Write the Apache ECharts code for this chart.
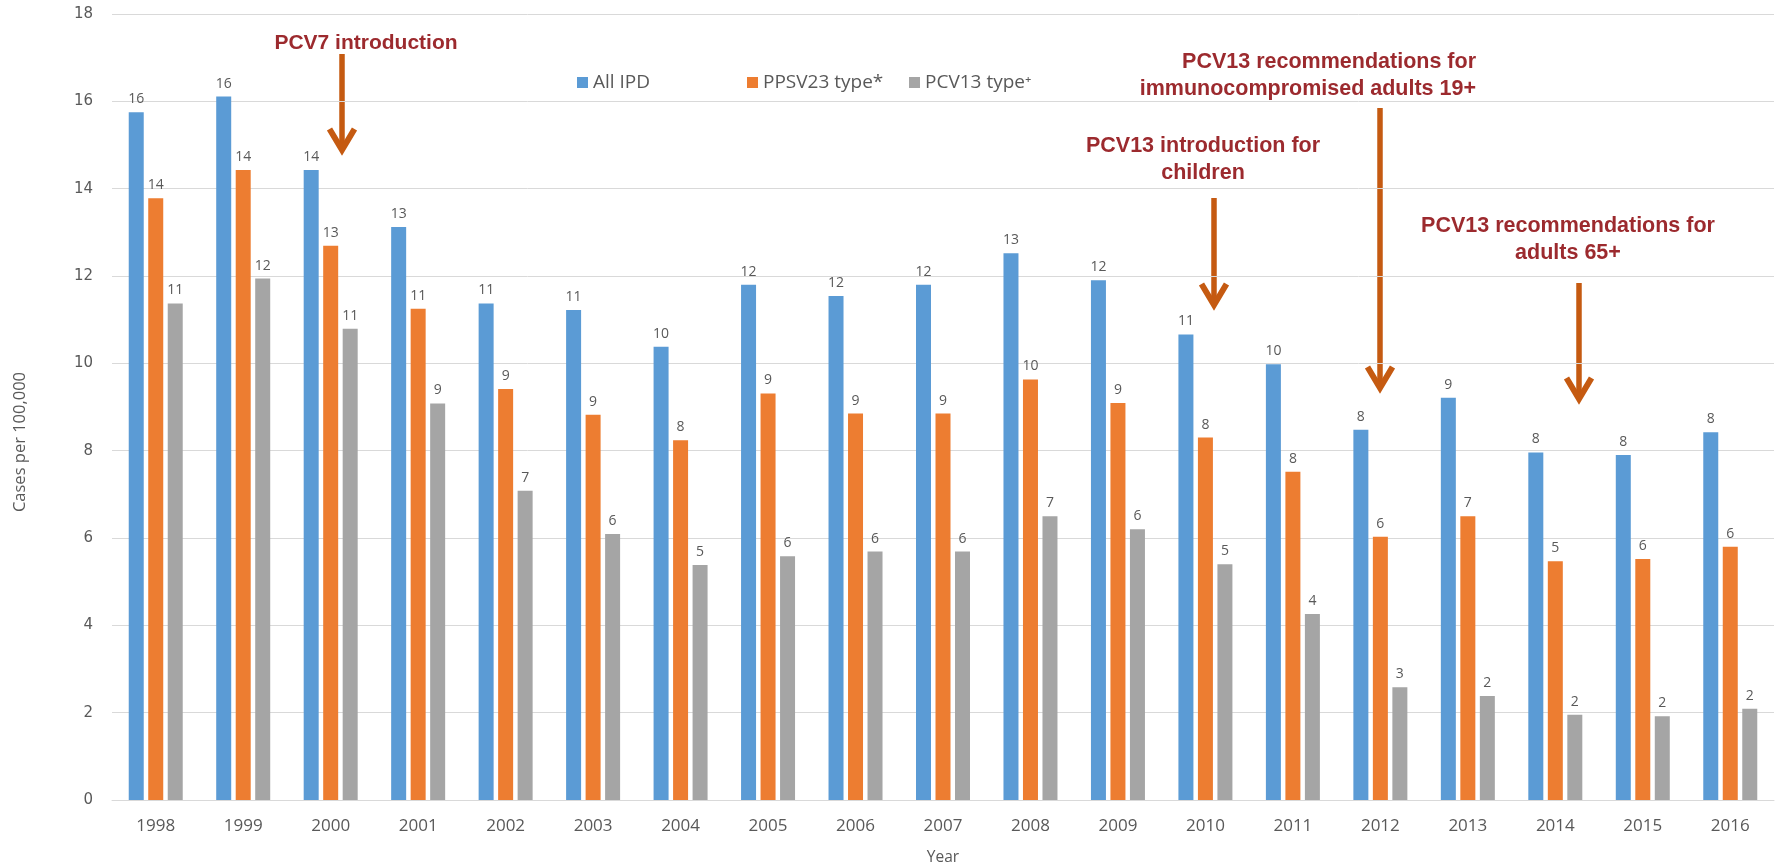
<!DOCTYPE html>
<html>
<head>
<meta charset="utf-8">
<script src="https://cdn.jsdelivr.net/npm/echarts@6/dist/echarts.min.js"></script>
<style>
  html, body { margin: 0; padding: 0; background: #fff; }
  #chart { width: 1777px; height: 866px; }
</style>
</head>
<body>
<div id="chart"></div>
<script>
// data
var years = ['1998', '1999', '2000', '2001', '2002', '2003', '2004', '2005', '2006', '2007',
  '2008', '2009', '2010', '2011', '2012', '2013', '2014', '2015', '2016']
var allIPD = [15.75, 16.11, 14.43, 13.12, 11.37, 11.22, 10.38, 11.8, 11.54, 11.8,
  12.52, 11.9, 10.66, 9.98, 8.48, 9.21, 7.96, 7.9, 8.42]
var ppsv23 = [13.78, 14.43, 12.69, 11.25, 9.41, 8.82, 8.24, 9.31, 8.85, 8.85,
  9.63, 9.09, 8.3, 7.52, 6.03, 6.5, 5.47, 5.52, 5.8]
var pcv13 = [11.37, 11.94, 10.79, 9.08, 7.08, 6.09, 5.38, 5.58, 5.69, 5.69,
  6.5, 6.2, 5.4, 4.26, 2.58, 2.38, 1.95, 1.92, 2.09]
var seriesNames = ['All IPD', 'PPSV23 type*', 'PCV13 type\u207A']
var seriesColors = ['#5B9BD5', '#ED7D31', '#A5A5A5']

var noteColor = '#9C2A2E'
var arrowColor = '#C55A11'

function bar(name, data, color) {
  return {
    name: name,
    type: 'bar',
    data: data,
    barWidth: 15,
    barGap: '30%',
    itemStyle: { color: color },
    label: {
      show: true,
      position: 'top',
      distance: 6,
      color: '#595959',
      fontSize: 14,
      formatter: function(p) { return Math.round(p.value) }
    }
  }
}

function legendAt(name, left) {
  return {
    data: [name],
    left: left,
    top: 68,
    itemWidth: 11,
    itemHeight: 11,
    icon: 'rect',
    textStyle: { color: '#595959', fontSize: 19 }
  }
}

function note(text, x, y, align, size) {
  return {
    type: 'text',
    x: x,
    y: y,
    style: {
      text: text,
      fill: noteColor,
      font: 'bold ' + size + 'px "Liberation Sans", Arial, sans-serif',
      align: align,
      verticalAlign: 'middle',
      lineHeight: 27
    }
  }
}

function arrow(x, y1, y2) {
  return {
    type: 'group',
    children: [
      {
        type: 'line',
        shape: { x1: x, y1: y1, x2: x, y2: y2 - 3 },
        style: { stroke: arrowColor, lineWidth: 5.5 }
      },
      {
        type: 'polyline',
        shape: { points: [[x - 12.5, y2 - 24], [x, y2 - 3], [x + 12.5, y2 - 24]] },
        style: { stroke: arrowColor, lineWidth: 6, fill: null, lineJoin: 'miter' }
      }
    ]
  }
}

var chart = echarts.init(document.getElementById('chart'))
chart.setOption({
  animation: false,
  textStyle: { fontFamily: '"Open Sans", sans-serif' },
  grid: { left: 112, right: 3, top: 14, bottom: 66, outerBoundsMode: 'none' },
  legend: [
    legendAt(seriesNames[0], 572),
    legendAt(seriesNames[1], 742),
    legendAt(seriesNames[2], 904)
  ],
  xAxis: {
    type: 'category',
    data: years,
    name: 'Year',
    nameLocation: 'middle',
    nameGap: 50,
    nameTextStyle: { color: '#595959', fontSize: 15.5 },
    axisLine: { lineStyle: { color: '#D9D9D9' } },
    axisTick: { show: false },
    axisLabel: { color: '#595959', fontSize: 17, margin: 18 }
  },
  yAxis: {
    type: 'value',
    min: 0,
    max: 18,
    interval: 2,
    name: 'Cases per 100,000',
    nameLocation: 'middle',
    nameGap: 83,
    nameTextStyle: { color: '#595959', fontSize: 16.5, padding: [0, 70, 0, 0] },
    axisLine: { show: false },
    axisTick: { show: false },
    splitLine: { lineStyle: { color: '#D9D9D9' } },
    axisLabel: { color: '#595959', fontSize: 15, margin: 19, fontFamily: '"DejaVu Sans", sans-serif' }
  },
  series: [
    bar(seriesNames[0], allIPD, seriesColors[0]),
    bar(seriesNames[1], ppsv23, seriesColors[1]),
    bar(seriesNames[2], pcv13, seriesColors[2])
  ],
  graphic: [
    note('PCV7 introduction', 366, 43, 'center', 21),
    arrow(342, 54, 153),
    note('PCV13 recommendations for\nimmunocompromised adults 19+', 1476, 76, 'right', 21.5),
    arrow(1380, 108, 391),
    note('PCV13 introduction for\nchildren', 1203, 160, 'center', 21.5),
    arrow(1214, 198, 308),
    note('PCV13 recommendations for\nadults 65+', 1568, 240, 'center', 21.5),
    arrow(1579, 283, 402)
  ]
})
</script>
</body>
</html>
